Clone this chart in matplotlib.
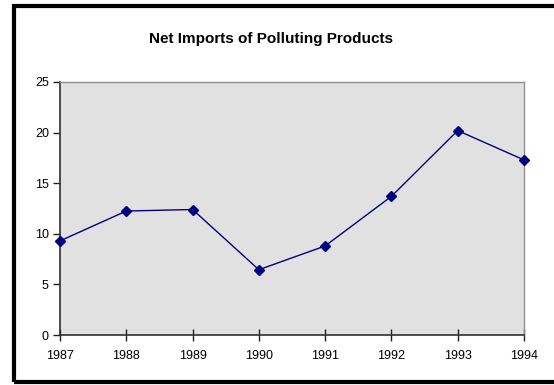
import matplotlib
matplotlib.use("Agg")
import matplotlib.pyplot as plt
from matplotlib.patches import Rectangle

years = [1987, 1988, 1989, 1990, 1991, 1992, 1993, 1994]
imports = [9.3, 12.25, 12.4, 6.45, 8.8, 13.7, 20.2, 17.3]
title = "Net Imports of Polluting Products"

plt.rcParams['font.family'] = ['Liberation Sans', 'DejaVu Sans']

fig = plt.figure(figsize=(5.54, 3.85), dpi=100)
ax = fig.add_axes([60 / 554, 50 / 385, 464 / 554, 253 / 385])
ax.set_facecolor("#E1E1E1")

ax.plot(years, imports, color="#000080", linewidth=1, marker="D", markersize=5.5,
        clip_on=False, zorder=3)

ax.set_xlim(years[0], years[-1])
ax.set_ylim(0, 25)
ax.set_xticks(years)
ax.set_yticks(range(0, 26, 5))
ax.tick_params(axis="both", labelsize=9, color="#202020", width=1)
ax.tick_params(axis="y", direction="out", length=5, pad=3)
ax.tick_params(axis="x", direction="inout", length=8, pad=7)

for side in ["left", "bottom"]:
    ax.spines[side].set_color("#303030")
    ax.spines[side].set_linewidth(1.2)
for side in ["top", "right"]:
    ax.spines[side].set_color("#909090")
    ax.spines[side].set_linewidth(1)

fig.text(271 / 554, 1 - 39 / 385, title, ha="center", va="center",
         fontsize=11, fontweight="bold")

# outer chart frame
fig.patches.append(Rectangle((14 / 554, 3.5 / 385), 0.99, 1 - 9.5 / 385,
                             transform=fig.transFigure, fill=False,
                             edgecolor="black", linewidth=3, clip_on=False))

fig.savefig("out.png", dpi=100)
